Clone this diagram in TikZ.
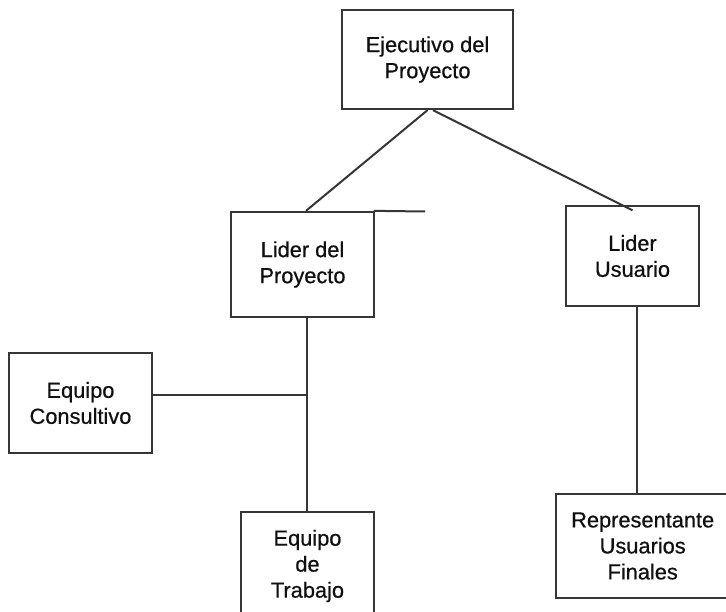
\documentclass[tikz,border=0pt]{standalone}
\usepackage{fontspec}
\setmainfont{Liberation Sans}
\definecolor{edge}{HTML}{363636}
\definecolor{ink}{HTML}{101010}
\begin{document}
\begin{tikzpicture}[x=1pt,y=-1pt,
  box/.style={draw=edge, line width=2.3pt, align=center, text=ink,
    font=\fontsize{21.8}{26}\selectfont\addfontfeature{FakeBold=0.6}, inner sep=0pt},
  wire/.style={draw=edge, line width=2pt}]
\useasboundingbox (0,0) rectangle (726,612);
\clip (0,0) rectangle (726,612);
\fill[white] (0,0) rectangle (726,612);

\node[box, minimum width=171pt, minimum height=99pt] (ejec) at (427.5,59.5) {Ejecutivo del\\Proyecto};
\node[box, minimum width=143pt, minimum height=105pt] (lidp) at (302.5,264.5) {Lider del\\Proyecto};
\node[box, minimum width=133pt, minimum height=100pt] (lidu) at (632.5,256) {Lider\\Usuario};
\node[box, minimum width=143pt, minimum height=100pt] (cons) at (80.5,403) {Equipo\\Consultivo};
\node[box, minimum width=133pt, inner ysep=18pt, text depth=110pt, anchor=north] (trab) at (307.5,510.7) {Equipo\\de\\Trabajo};
\node[box, minimum width=174pt, minimum height=104pt] (repr) at (642.7,546) {Representante\\Usuarios\\Finales};

\coordinate (stub) at (425,211.5);
\coordinate (jn) at (306.5,395);

\draw[wire] (ejec.south) -- ([xshift=3.5pt]lidp.north);
\draw[wire] ([xshift=-1.5pt]lidp.north east) -- (stub);
\draw[wire] ([xshift=5.5pt]ejec.south) -- ([yshift=-5.5pt]lidu.north);
\draw[wire] (jn |- lidp.south) -- (jn |- trab.north);
\draw[wire] (cons.east |- jn) -- (jn);
\draw[wire] ([xshift=4.5pt]lidu.south) -- ([xshift=-5.7pt]repr.north);
\end{tikzpicture}
\end{document}
